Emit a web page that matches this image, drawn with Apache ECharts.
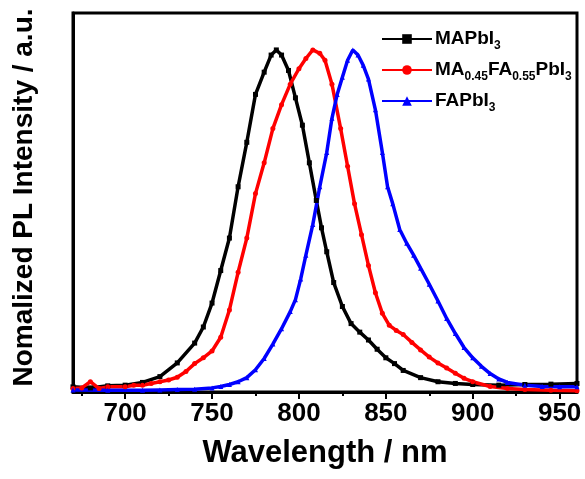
<!DOCTYPE html>
<html>
<head>
<meta charset="utf-8">
<script src="https://cdn.jsdelivr.net/npm/echarts@6/dist/echarts.min.js"></script>
<style>
  html, body { margin: 0; padding: 0; background: #fff; }
  #chart { width: 585px; height: 479px; }
</style>
</head>
<body>
<div id="chart"></div>
<script>
// tick labels on the wavelength axis
const majorTicks = [700, 750, 800, 850, 900, 950];
const minorTicks = [675, 725, 775, 825, 875, 925];

// MAPbI3
const maWl = [670, 680, 690, 700, 710, 720, 730, 740, 745, 750, 755, 760, 765, 770, 775, 780, 784, 787, 790, 794,
  798, 802, 806, 810, 813, 816, 820, 825, 830, 835, 840, 845, 850, 855, 860, 870, 880, 890, 900, 915, 930, 945, 960];
const maVal = [0.015, 0.012, 0.018, 0.02, 0.028, 0.045, 0.085, 0.143, 0.19, 0.26, 0.355, 0.45, 0.6, 0.73, 0.87, 0.935, 0.985, 1.0, 0.985, 0.94,
  0.86, 0.78, 0.67, 0.56, 0.48, 0.41, 0.32, 0.25, 0.2, 0.175, 0.152, 0.125, 0.1, 0.083, 0.063, 0.042, 0.03, 0.025, 0.022, 0.02, 0.022, 0.023, 0.025];

// MA0.45FA0.55PbI3
const mixWl = [670, 675, 680, 685, 690, 700, 705, 710, 715, 720, 725, 730, 735, 740, 745, 750, 755, 760, 765, 770,
  775, 780, 785, 790, 795, 800, 804, 808, 812, 815, 819, 824, 828, 832, 836, 840, 844, 848, 852, 856,
  860, 865, 870, 875, 880, 885, 890, 895, 900, 910, 920, 930, 945, 960];
const mixVal = [0.01, 0.012, 0.03, 0.01, 0.015, 0.015, 0.02, 0.02, 0.025, 0.03, 0.035, 0.043, 0.06, 0.083, 0.1, 0.12, 0.16, 0.24, 0.35, 0.45,
  0.58, 0.67, 0.77, 0.84, 0.9, 0.945, 0.975, 1.0, 0.99, 0.97, 0.9, 0.77, 0.66, 0.55, 0.46, 0.37, 0.29, 0.23, 0.195, 0.18,
  0.168, 0.145, 0.123, 0.102, 0.085, 0.07, 0.055, 0.04, 0.03, 0.016, 0.01, 0.007, 0.005, 0.004];

// FAPbI3
const faWl = [670, 690, 710, 720, 730, 740, 750, 755, 760, 765, 770, 775, 780, 785, 790, 795, 798, 801, 804, 808,
  812, 816, 819, 822, 825, 828, 831, 834, 837, 840, 844, 848, 851, 854, 858, 862, 866, 870, 875, 880,
  885, 890, 895, 900, 905, 910, 915, 920, 930, 940, 950, 960];
const faVal = [0.006, 0.005, 0.005, 0.006, 0.007, 0.008, 0.012, 0.016, 0.022, 0.03, 0.042, 0.065, 0.098, 0.14, 0.185, 0.235, 0.27, 0.33, 0.4, 0.49,
  0.6, 0.7, 0.8, 0.87, 0.92, 0.97, 1.0, 0.985, 0.955, 0.915, 0.825, 0.7, 0.6, 0.55, 0.475, 0.435, 0.4, 0.362, 0.315, 0.266,
  0.215, 0.171, 0.13, 0.1, 0.075, 0.054, 0.038, 0.028, 0.02, 0.016, 0.015, 0.015];

function pairs(xs, ys) {
  return xs.map((x, i) => [x, ys[i]]);
}

const legendText = {
  'MAPbI3': '{b|MAPbI}{s|3}',
  'MA0.45FA0.55PbI3': '{b|MA}{s|0.45}{b|FA}{s|0.55}{b|PbI}{s|3}',
  'FAPbI3': '{b|FAPbI}{s|3}'
};

const font = 'Arial, "Liberation Sans", sans-serif';

function lineSeries(name, data, color, symbol) {
  return {
    name: name,
    type: 'line',
    data: data,
    symbol: symbol,
    symbolSize: 5,
    showAllSymbol: true,
    lineStyle: { color: color, width: 3.5 },
    itemStyle: { color: color },
    animation: false
  };
}

const chart = echarts.init(document.getElementById('chart'));
const option = {
  backgroundColor: '#fff',
  grid: {
    left: 73, right: 8, top: 13, bottom: 87,
    show: true, borderColor: '#000', borderWidth: 3
  },
  legend: {
    orient: 'vertical',
    left: 376,
    top: 21,
    itemWidth: 50,
    itemHeight: 12,
    itemGap: 5,
    formatter: name => legendText[name],
    textStyle: {
      padding: [0, 0, 0, -2],
      rich: {
        b: { fontFamily: font, fontWeight: 'bold', fontSize: 19, color: '#000', lineHeight: 28 },
        s: { fontFamily: font, fontWeight: 'bold', fontSize: 12, color: '#000', lineHeight: 28, padding: [14, 0, 0, 0] }
      }
    },
    data: ['MAPbI3', 'MA0.45FA0.55PbI3', 'FAPbI3']
  },
  xAxis: [
    {
      type: 'value',
      min: 670,
      max: 960,
      name: 'Wavelength / nm',
      nameLocation: 'middle',
      nameGap: 46,
      nameTextStyle: { fontFamily: font, fontWeight: 'bold', fontSize: 31, color: '#000' },
      axisLine: { lineStyle: { color: '#000', width: 3 } },
      axisTick: { customValues: majorTicks, length: 7, lineStyle: { color: '#000', width: 2 } },
      axisLabel: { customValues: majorTicks, margin: 9, fontFamily: font, fontWeight: 'bold', fontSize: 26, color: '#000' },
      splitLine: { show: false }
    },
    {
      type: 'value',
      min: 670,
      max: 960,
      position: 'bottom',
      axisLine: { show: false },
      axisTick: { customValues: minorTicks, length: 4, lineStyle: { color: '#000', width: 2 } },
      axisLabel: { show: false },
      splitLine: { show: false }
    }
  ],
  yAxis: {
    type: 'value',
    min: 0,
    max: 1.108,
    name: 'Nomalized PL Intensity / a.u.',
    nameLocation: 'middle',
    nameGap: 35,
    nameTextStyle: { fontFamily: font, fontWeight: 'bold', fontSize: 28, color: '#000', padding: [0, 0, 0, 10] },
    axisLine: { show: true, lineStyle: { color: '#000', width: 3 } },
    axisTick: { show: false },
    axisLabel: { show: false },
    splitLine: { show: false }
  },
  series: [
    lineSeries('MAPbI3', pairs(maWl, maVal), '#000000', 'rect'),
    lineSeries('MA0.45FA0.55PbI3', pairs(mixWl, mixVal), '#ff0000', 'circle'),
    lineSeries('FAPbI3', pairs(faWl, faVal), '#0000ff', 'triangle')
  ]
};
chart.setOption(option);
</script>
</body>
</html>
